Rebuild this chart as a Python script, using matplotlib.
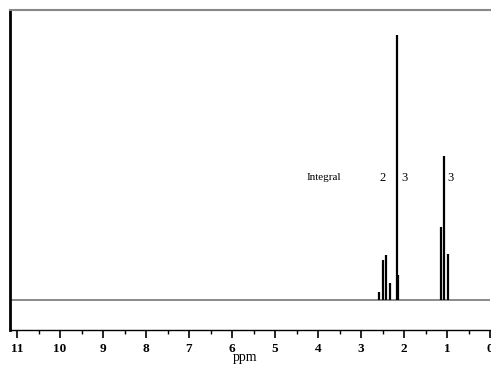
import matplotlib
matplotlib.use("Agg")
import matplotlib.pyplot as plt
from matplotlib.ticker import MultipleLocator

# peak list (ppm, relative intensity, tallest = 100)
peak_ppm = [2.58, 2.50, 2.42, 2.33, 2.16, 2.13, 1.15, 1.08, 0.98]
peak_height = [3.0, 15.1, 16.8, 6.4, 100.0, 9.6, 27.4, 54.5, 17.2]

# integral labels
integ_ppm = [2.51, 2.00, 0.93]
integ_text = ["2", "3", "3"]

W, H = 491, 367
fig = plt.figure(figsize=(W / 100, H / 100), dpi=100)
ax = fig.add_axes([10 / W, 1 - 330 / H, 480 / W, 320 / H])

ax.axhline(0, color="#777777", lw=1.2, zorder=1)
ax.vlines(peak_ppm, 0, peak_height, color="black", lw=1.6, zorder=2)

ax.set_xlim(480 / 43, 0)
ax.set_ylim(-30 / 2.65, 290 / 2.65)

serif = ["Liberation Serif", "DejaVu Serif"]
ax.text(3.86, 46.2, "Integral", ha="center", va="center", fontsize=8, family=serif)
for p, t in zip(integ_ppm, integ_text):
    ax.text(p, 46.2, t, ha="center", va="center", fontsize=9, family=serif)

ax.xaxis.set_major_locator(MultipleLocator(1))
ax.xaxis.set_minor_locator(MultipleLocator(0.5))
ax.tick_params(axis="x", which="major", length=6, width=1.2, direction="out",
               labelsize=9.5, pad=3)
ax.tick_params(axis="x", which="minor", length=3, width=1, direction="out")
ax.set_yticks([])
for lab in ax.get_xticklabels():
    lab.set_family(serif)
    lab.set_fontweight("bold")

ax.spines["right"].set_visible(False)
ax.spines["top"].set_color("#888888")
ax.spines["top"].set_linewidth(1.5)
ax.spines["left"].set_linewidth(2)
ax.spines["bottom"].set_linewidth(1)

fig.text(245 / W, 1 - 358 / H, "ppm", ha="center", va="center", fontsize=10, family=serif)

fig.savefig("out.png", dpi=100)
